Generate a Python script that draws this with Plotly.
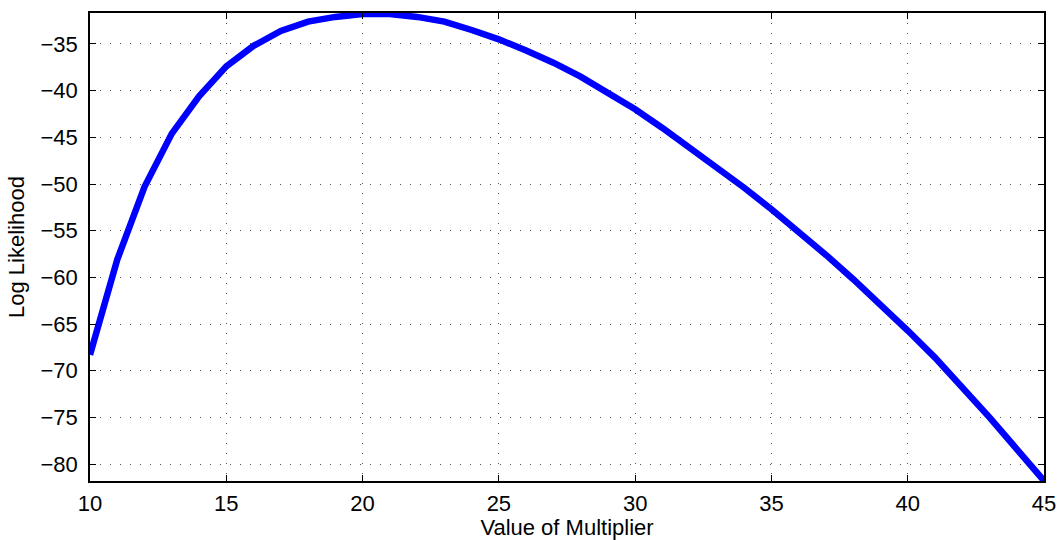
import plotly.graph_objects as go

multiplier = list(range(10, 46))
log_likelihood = [
    -68.3, -58.1, -50.3, -44.6, -40.6, -37.4, -35.2, -33.6, -32.6, -32.1,
    -31.8, -31.8, -32.1, -32.6, -33.5, -34.5, -35.7, -37.0, -38.5, -40.2,
    -42.0, -44.0, -46.1, -48.2, -50.4, -52.7, -55.1, -57.6, -60.2, -62.9,
    -65.7, -68.6, -71.7, -75.0, -78.4, -81.8,
]
x_ticks = [10, 15, 20, 25, 30, 35, 40, 45]
y_ticks = [-80, -75, -70, -65, -60, -55, -50, -45, -40, -35]

fig = go.Figure()
fig.add_trace(go.Scatter(
    x=multiplier, y=log_likelihood, mode="lines",
    line=dict(color="#0000ff", width=6.5), showlegend=False,
))

font = dict(family="Liberation Sans, Arial, Helvetica, sans-serif", size=22, color="black")
axis_common = dict(
    showline=True, linecolor="black", linewidth=1.5, mirror="ticks",
    ticks="inside", ticklen=6, tickwidth=1, tickcolor="black",
    showgrid=True, gridcolor="#555555", gridwidth=1, griddash="1px,9px",
    zeroline=False, tickfont=font, automargin=False,
)
fig.update_layout(
    width=1058, height=540,
    margin=dict(l=90, r=14, t=13, b=59),
    paper_bgcolor="white", plot_bgcolor="white",
    font=font,
    xaxis=dict(range=[10, 45], tickvals=x_ticks, ticklabelstandoff=2,
               title=dict(text="Value of Multiplier", font=font, standoff=2),
               **axis_common),
    yaxis=dict(range=[-81.82, -31.68], tickvals=y_ticks, ticklabelstandoff=6,
               title=dict(text="Log Likelihood", font=font, standoff=10),
               **axis_common),
)
fig.write_html(
    "out.html",
    config={"displayModeBar": False},
    post_script="document.body.style.margin='0';document.body.style.overflow='hidden';",
)
